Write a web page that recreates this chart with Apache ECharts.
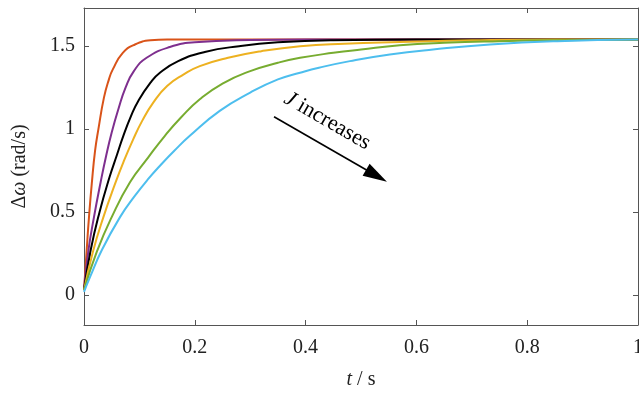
<!DOCTYPE html>
<html>
<head>
<meta charset="utf-8">
<script src="https://cdn.jsdelivr.net/npm/echarts@6/dist/echarts.min.js"></script>
<style>
  html, body { margin: 0; padding: 0; background: #fff; }
  #main { width: 639px; height: 398px; }
</style>
</head>
<body>
<div id="main"></div>
<script>
// [t (s), delta omega (rad/s)], one list per J value
var orange = [[0, 0.03], [0.005, 0.28], [0.009, 0.47], [0.014, 0.67], [0.02, 0.87], [0.026, 1.0],
  [0.036, 1.19], [0.045, 1.3], [0.052, 1.36], [0.07, 1.46], [0.092, 1.51], [0.12, 1.535], [0.15, 1.54], [1, 1.54]];
var purple = [[0, 0.03], [0.008, 0.27], [0.018, 0.47], [0.03, 0.68], [0.04, 0.84], [0.05, 0.98],
  [0.062, 1.12], [0.075, 1.25], [0.09, 1.35], [0.113, 1.43], [0.155, 1.495], [0.2, 1.523], [0.3, 1.537],
  [0.4, 1.54], [1, 1.54]];
var black = [[0, 0.03], [0.012, 0.27], [0.028, 0.5], [0.046, 0.71], [0.06, 0.85], [0.071, 0.96],
  [0.085, 1.08], [0.098, 1.17], [0.12, 1.28], [0.137, 1.34], [0.17, 1.41], [0.218, 1.465], [0.28, 1.5],
  [0.35, 1.523], [0.45, 1.536], [0.6, 1.54], [1, 1.54]];
var yellow = [[0, 0.03], [0.016, 0.26], [0.035, 0.47], [0.056, 0.67], [0.071, 0.8], [0.089, 0.94],
  [0.105, 1.05], [0.125, 1.16], [0.15, 1.26], [0.18, 1.33], [0.209, 1.38], [0.26, 1.43], [0.32, 1.47],
  [0.39, 1.5], [0.47, 1.515], [0.57, 1.525], [0.7, 1.535], [0.85, 1.54], [1, 1.54]];
var green = [[0, 0.03], [0.023, 0.26], [0.05, 0.47], [0.083, 0.68], [0.116, 0.83], [0.146, 0.96],
  [0.175, 1.07], [0.209, 1.18], [0.25, 1.275], [0.3, 1.35], [0.35, 1.4], [0.39, 1.43], [0.45, 1.46],
  [0.5, 1.48], [0.57, 1.505], [0.65, 1.52], [0.75, 1.53], [0.85, 1.536], [1, 1.54]];
var cyan = [[0, 0.02], [0.011, 0.11], [0.032, 0.27], [0.065, 0.47], [0.09, 0.59], [0.116, 0.7],
  [0.14, 0.79], [0.163, 0.87], [0.191, 0.96], [0.245, 1.11], [0.3, 1.22], [0.35, 1.3], [0.39, 1.34],
  [0.424, 1.37], [0.48, 1.41], [0.552, 1.45], [0.63, 1.48], [0.733, 1.51], [0.854, 1.53], [1, 1.54]];

var yTicks = [0, 0.5, 1, 1.5];
var arrowFrom = [0.343, 1.075];
var arrowTo = [0.528, 0.719];

var colors = ['#D95319', '#7E2F8E', '#000000', '#EDB120', '#77AC30', '#4DBEEE'];
var curves = [orange, purple, black, yellow, green, cyan];

var serif = '"Liberation Serif", "DejaVu Serif", serif';
var axisColor = '#555';

var myChart = echarts.init(document.getElementById('main'));

var series = curves.map(function (d, i) {
  return {
    type: 'line',
    data: d,
    showSymbol: false,
    smooth: 0.5,
    lineStyle: { width: 2, color: colors[i] },
    itemStyle: { color: colors[i] },
    silent: true,
    z: 2 + i
  };
});

// annotation arrow
series.push({
  type: 'line',
  data: [],
  silent: true,
  markLine: {
    silent: true,
    symbol: ['none', 'triangle'],
    symbolSize: [14, 24],
    lineStyle: { color: '#000', width: 1.6, type: 'solid' },
    label: {
      show: true,
      position: 'insideMiddleTop',
      distance: 12,
      formatter: '{i|J} increases    ',
      color: '#000',
      fontFamily: serif,
      fontSize: 22,
      rich: {
        i: { fontStyle: 'italic', fontFamily: serif, fontSize: 22, color: '#000' }
      }
    },
    emphasis: { disabled: true },
    data: [[{ coord: arrowFrom }, { coord: arrowTo }]]
  }
});

var option = {
  backgroundColor: '#fff',
  animation: false,
  grid: { left: 84, right: 1, top: 8, bottom: 73, outerBoundsMode: 'none' },
  xAxis: [{
    type: 'value',
    min: 0, max: 1, interval: 0.2,
    position: 'bottom',
    name: '{i|t} / s',
    nameLocation: 'middle',
    nameGap: 45,
    nameTextStyle: {
      fontFamily: serif, fontSize: 20, color: '#222',
      rich: { i: { fontStyle: 'italic', fontFamily: serif, fontSize: 20, color: '#222' } }
    },
    axisLine: { show: true, onZero: false, lineStyle: { color: axisColor, width: 1 } },
    axisTick: { show: true, inside: true, length: 5, lineStyle: { color: axisColor } },
    axisLabel: { fontFamily: serif, fontSize: 20, color: '#222', margin: 13 },
    splitLine: { show: false }
  }, {
    type: 'value',
    min: 0, max: 1, interval: 0.2,
    position: 'top',
    axisLine: { show: true, onZero: false, lineStyle: { color: axisColor, width: 1 } },
    axisTick: { show: true, inside: true, length: 5, lineStyle: { color: axisColor } },
    axisLabel: { show: false },
    splitLine: { show: false }
  }],
  yAxis: [{
    type: 'value',
    min: -0.18, max: 1.73,
    position: 'left',
    name: 'Δ{i|ω} (rad/s)',
    nameLocation: 'middle',
    nameGap: 54,
    nameRotate: 90,
    nameTextStyle: {
      fontFamily: serif, fontSize: 20, color: '#222',
      rich: { i: { fontStyle: 'italic', fontFamily: serif, fontSize: 20, color: '#222' } }
    },
    axisLine: { show: true, onZero: false, lineStyle: { color: axisColor, width: 1 } },
    axisTick: { show: true, inside: true, length: 5, customValues: yTicks, lineStyle: { color: axisColor } },
    axisLabel: { fontFamily: serif, fontSize: 20, color: '#222', margin: 9, customValues: yTicks },
    splitLine: { show: false }
  }, {
    type: 'value',
    min: -0.18, max: 1.73,
    position: 'right',
    axisLine: { show: true, onZero: false, lineStyle: { color: axisColor, width: 1 } },
    axisTick: { show: true, inside: true, length: 5, customValues: yTicks, lineStyle: { color: axisColor } },
    axisLabel: { show: false },
    splitLine: { show: false }
  }],
  series: series
};

myChart.setOption(option);
</script>
</body>
</html>
